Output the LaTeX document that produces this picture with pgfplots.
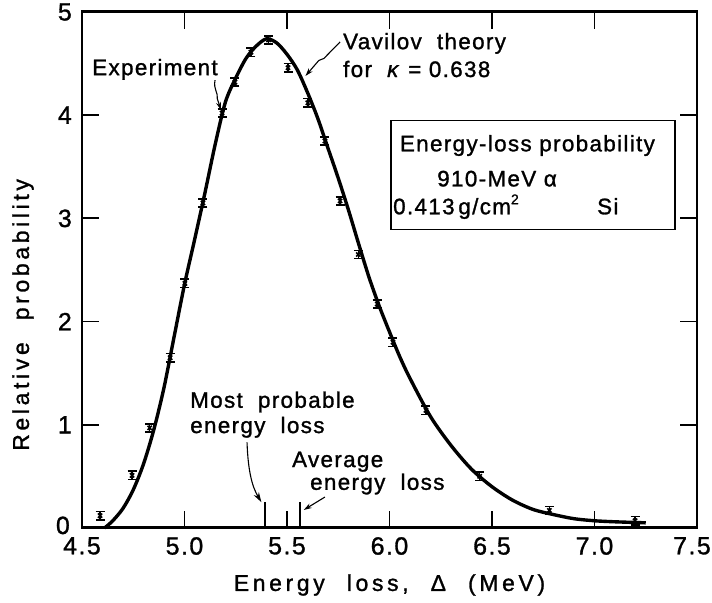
\documentclass[border=0pt]{standalone}
\usepackage{fontspec}
\setmainfont{Liberation Sans}[LetterSpace=6, FakeBold=1.2]
\newfontfamily\labelfont{Liberation Sans}[LetterSpace=16, WordSpace=2.2, FakeBold=1.2]
\newfontfamily\tickfont{Liberation Sans}[LetterSpace=6, FakeBold=1.2]
\usepackage{pgfplots}
\pgfplotsset{compat=1.18}
\usetikzlibrary{arrows.meta}
\newcommand\af{\fontsize{22.5}{27}\selectfont}
\newcommand\lf{\labelfont\fontsize{23}{27}\selectfont}
\newcommand\tf{\tickfont\fontsize{25}{29}\selectfont}
\begin{document}
\begin{tikzpicture}
\begin{axis}[
  scale only axis, width=615bp, height=516bp,
  xmin=4.5, xmax=7.5, ymin=0, ymax=5,
  axis line style={line width=3pt},
  xtick={4.5,5.0,5.5,6.0,6.5,7.0,7.5},
  xticklabels={4.5,5.0,5.5,6.0,6.5,7.0,7.5\hspace*{10bp}},
  ytick={0,1,2,3,4,5}, yticklabels={\raisebox{-6bp}[0pt][0pt]{0\hspace*{2bp}},1,2,3,4,5},
  tick align=inside, major tick length=17bp,
  tick style={line width=1.8pt, black},
  tick label style={font=\tf, inner sep=1bp},
  xticklabel style={yshift=-8bp},
  yticklabel style={xshift=-9bp},
  clip=false,
]
% Vavilov theory curve
\addplot[line width=3.4pt, smooth] coordinates {
(4.61,0.00) (4.65,0.07) (4.70,0.19) (4.75,0.37) (4.80,0.62) (4.85,0.95)
(4.90,1.36) (4.95,1.86) (5.00,2.36) (5.05,2.80) (5.10,3.25) (5.15,3.72)
(5.20,4.13) (5.25,4.36) (5.30,4.55) (5.35,4.67) (5.40,4.74) (5.45,4.70)
(5.50,4.59) (5.55,4.44) (5.60,4.22) (5.65,3.97) (5.70,3.68) (5.75,3.39)
(5.80,3.08) (5.85,2.75) (5.90,2.43) (5.95,2.15) (6.00,1.90) (6.05,1.66)
(6.10,1.45) (6.20,1.08) (6.30,0.80) (6.40,0.57) (6.50,0.40) (6.60,0.27)
(6.70,0.18) (6.80,0.13) (6.90,0.09) (7.00,0.07) (7.10,0.06) (7.25,0.05)
};
% Experiment points
\addplot[only marks, mark=x, mark size=3bp, mark options={line width=1.6pt},
  error bars/.cd, y dir=both, y fixed=0.04,
  error bar style={line width=1.6pt},
  error mark=-,
  error mark options={rotate=90, line width=1.6pt, mark size=4.5bp}] coordinates {
(4.588,0.12) (4.744,0.51) (4.83,0.97) (4.93,1.65) (5.002,2.37) (5.09,3.15)
(5.183,4.02) (5.246,4.32) (5.324,4.61) (5.41,4.73) (5.505,4.46) (5.602,4.12)
(5.685,3.75) (5.759,3.17) (5.848,2.65) (5.94,2.17) (6.017,1.80) (6.178,1.14)
(6.44,0.50) (6.78,0.17) (7.198,0.07)
};
% most probable and average energy-loss markers
\addplot[line width=2.4pt] coordinates {(5.393,0) (5.393,0.25)};
\addplot[line width=2.4pt] coordinates {(5.563,0) (5.563,0.25)};

% annotations
\node[anchor=base west, inner sep=0, font=\af] at (axis cs:4.549,4.388) {Experiment};
\draw[line width=1.1pt, -{Stealth[length=8bp,width=5bp]}] (axis cs:5.149,4.34)
  .. controls (axis cs:5.14,4.25) and (axis cs:5.165,4.22) .. (axis cs:5.16,4.16)
  -- (axis cs:5.178,4.05);
\node[anchor=base west, inner sep=0, font=\af] at (axis cs:5.773,4.64) {Vavilov\ \ theory};
\node[anchor=base west, inner sep=0, font=\af] at (axis cs:5.773,4.37) {for\ \ \textit{κ} = 0.638};
\draw[line width=1.1pt, -{Stealth[length=8bp,width=5bp]}] (axis cs:5.759,4.71)
  -- (axis cs:5.68,4.55) -- (axis cs:5.655,4.53) -- (axis cs:5.59,4.38);

\draw[line width=1.3pt] (axis cs:6.007,3.95) rectangle (axis cs:7.393,2.89);
\node[anchor=base west, inner sep=0, font=\af] at (axis cs:6.05,3.65) {Energy-loss probability};
\node[anchor=base west, inner sep=0, font=\af] at (axis cs:6.232,3.31) {910-MeV α};
\node[anchor=base west, inner sep=0, font=\af] at (axis cs:6.017,3.04) {0.413\,g/cm\raisebox{0.45em}{\fontsize{14}{16}\selectfont 2}};
\node[anchor=base west, inner sep=0, font=\af] at (axis cs:7.012,3.04) {Si};

\node[anchor=base west, inner sep=0, font=\af] at (axis cs:5.027,1.165) {Most\ \ probable};
\node[anchor=base west, inner sep=0, font=\af] at (axis cs:5.027,0.92) {energy\ \ loss};
\draw[line width=1.1pt, -{Stealth[length=10bp,width=6bp]}] (axis cs:5.305,0.83)
  .. controls (axis cs:5.31,0.55) and (axis cs:5.33,0.40) .. (axis cs:5.375,0.25);
\node[anchor=base west, inner sep=0, font=\af] at (axis cs:5.524,0.59) {Average};
\node[anchor=base west, inner sep=0, font=\af] at (axis cs:5.612,0.37) {energy\ \ loss};
\draw[line width=1.1pt, -{Stealth[length=8bp,width=5bp]}] (axis cs:5.685,0.30) -- (axis cs:5.582,0.175);

% axis labels
\node[rotate=90, font=\lf] at ([xshift=-59bp]rel axis cs:0,0.413) {Relative probability};
\node[font=\lf] at ([yshift=-57bp]rel axis cs:0.5,0) {Energy loss, Δ (MeV)};

\coordinate (ll) at (rel axis cs:0,0);
\coordinate (ur) at (rel axis cs:1,1);
\end{axis}
\pgfresetboundingbox
\path ([xshift=-82bp,yshift=-75bp]ll) rectangle ([xshift=15bp,yshift=12bp]ur);
\end{tikzpicture}
\end{document}
